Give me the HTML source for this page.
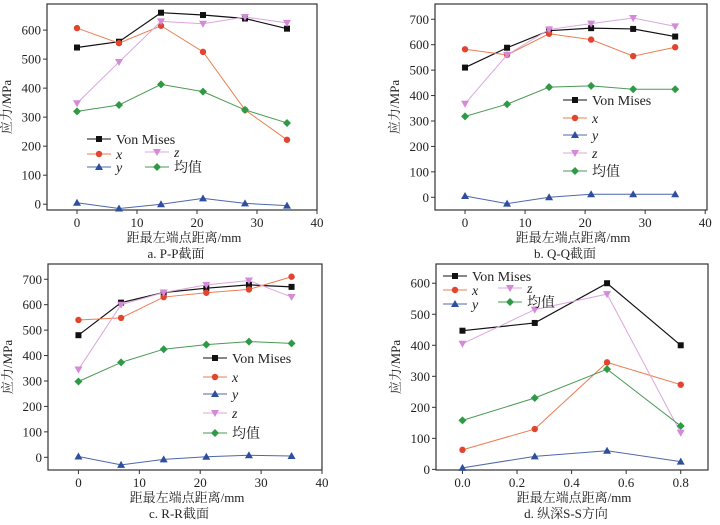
<!DOCTYPE html>
<html><head><meta charset="utf-8">
<style>
body{margin:0;background:#fff;width:720px;height:525px;overflow:hidden}
svg{display:block}
svg text{font-family:"Liberation Serif","Noto Serif CJK SC",serif !important;fill:#222}
</style></head>
<body>
<svg id="chart" width="720" height="525" viewBox="0 0 720 525" xmlns="http://www.w3.org/2000/svg" font-family="'Liberation Serif','Noto Serif CJK SC',serif"></svg>
<script>
// ---- data ----
const xA = [0, 7, 14, 21, 28, 35];
const aVM = [540, 560, 660, 652, 640, 605];
const aX = [607, 555, 615, 525, 325, 222];
const aY = [5, -15, 0, 20, 3, -5];
const aZ = [348, 490, 630, 622, 645, 625];
const aMean = [320, 342, 413, 388, 325, 280];

const xB = [0, 7, 14, 21, 28, 35];
const bVM = [510, 588, 655, 665, 662, 632];
const bX = [582, 560, 643, 620, 555, 590];
const bY = [5, -25, 0, 12, 12, 12];
const bZ = [368, 560, 660, 683, 705, 672];
const bMean = [318, 366, 433, 438, 425, 425];

const xC = [0, 7, 14, 21, 28, 35];
const cVM = [480, 608, 648, 665, 678, 670];
const cX = [540, 548, 630, 647, 660, 710];
const cY = [3, -30, -8, 2, 8, 5];
const cZ = [345, 600, 648, 678, 695, 630];
const cMean = [298, 373, 425, 443, 455, 448];

const xD = [0, 0.265, 0.53, 0.8];
const dVM = [447, 472, 600, 400];
const dX = [63, 130, 345, 273];
const dY = [5, 42, 60, 25];
const dZ = [405, 515, 565, 118];
const dMean = [158, 230, 323, 140];

const xTicksABC = [0, 10, 20, 30, 40];
const yTicksA = [0, 100, 200, 300, 400, 500, 600];
const yTicksBC = [0, 100, 200, 300, 400, 500, 600, 700];
const xTicksD = [0, 0.2, 0.4, 0.6, 0.8];
const yTicksD = [0, 100, 200, 300, 400, 500, 600];
const seriesNames = ["Von Mises", "x", "y", "z", "均值"];
const captions = ["a. P-P截面", "b. Q-Q截面", "c. R-R截面", "d. 纵深S-S方向"];

const svg = document.getElementById('chart');
const NS = 'http://www.w3.org/2000/svg';
const FONT = "'Liberation Serif','Noto Serif CJK SC',serif";
const colors = ['#111', '#e2452f', '#2f4f9e', '#d48ad6', '#2f9a45'];
const lineColors = ['#111', '#ec7d52', '#4d67aa', '#dca6de', '#4b9a55'];
const markers = ['square', 'circle', 'up', 'down', 'diamond'];

function mk(tag, attrs, parent) {
  const e = document.createElementNS(NS, tag);
  for (const k in attrs) e.setAttribute(k, attrs[k]);
  if (tag === 'text') e.setAttribute('font-family', FONT);
  (parent || svg).appendChild(e);
  return e;
}
function marker(g, type, x, y, c) {
  let e;
  if (type === 'square') e = mk('rect', {x: x - 3, y: y - 3, width: 6, height: 6, fill: c}, g);
  else if (type === 'circle') e = mk('circle', {cx: x, cy: y, r: 3.2, fill: c}, g);
  else if (type === 'up') e = mk('polygon', {points: `${x},${y-4} ${x-4},${y+3} ${x+4},${y+3}`, fill: c}, g);
  else if (type === 'down') e = mk('polygon', {points: `${x},${y+4} ${x-4},${y-3} ${x+4},${y-3}`, fill: c}, g);
  else e = mk('polygon', {points: `${x},${y-4} ${x+4},${y} ${x},${y+4} ${x-4},${y}`, fill: c}, g);
  return e;
}

function panel(id, box, xd, yd, xs, series, xticks, yticks, xfmt, legend, caption) {
  const g = mk('g', {});
  
  
  const X = v => box.l + (v - xd[0]) / (xd[1] - xd[0]) * (box.r - box.l);
  const Y = v => box.b - (v - yd[0]) / (yd[1] - yd[0]) * (box.b - box.t);
  const frame = mk('rect', {x: box.l, y: box.t, width: box.r - box.l, height: box.b - box.t, fill: 'none', stroke: '#333', 'stroke-width': 1.2}, g);
  
  
  xticks.forEach(t => {
    const x = X(t);
    mk('line', {x1: x, x2: x, y1: box.b, y2: box.b + 4, stroke: '#333'}, g);
    const tx = mk('text', {x: x, y: box.b + 17, 'text-anchor': 'middle', 'font-size': 13}, g);
    tx.textContent = xfmt(t);
    
    
  });
  yticks.forEach(t => {
    const y = Y(t);
    mk('line', {x1: box.l - 4, x2: box.l, y1: y, y2: y, stroke: '#333'}, g);
    const tx = mk('text', {x: box.l - 6, y: y + 4.5, 'text-anchor': 'end', 'font-size': 13}, g);
    tx.textContent = t;
    
    
  });
  const yt = mk('text', {transform: `translate(${box.l - 36},${(box.t + box.b) / 2}) rotate(-90)`, 'text-anchor': 'middle', 'font-size': 13}, g);
  yt.textContent = '应力/MPa';
  
  
  const xt = mk('text', {x: (box.l + box.r) / 2 + 2, y: box.b + 32, 'text-anchor': 'middle', 'font-size': 13}, g);
  xt.textContent = '距最左端点距离/mm';
  
  
  const cp = mk('text', {x: (box.l + box.r) / 2 - 6, y: box.b + 48, 'text-anchor': 'middle', 'font-size': 13}, g);
  cp.textContent = caption;
  
  
  series.forEach((s, i) => {
    const pts = s.map((v, j) => X(xs[j]) + ',' + Y(v)).join(' ');
    const pl = mk('polyline', {points: pts, fill: 'none', stroke: lineColors[i], 'stroke-width': i === 0 ? 1.2 : 1}, g);
    
    
    s.forEach((v, j) => {
      const m = marker(g, markers[i], X(xs[j]), Y(v), colors[i]);
      
      
    });
  });
  legend.forEach((L, i) => {
    const lg = mk('g', {}, g);
    
    
    mk('line', {x1: L[0], x2: L[0] + 24, y1: L[1], y2: L[1], stroke: lineColors[i], 'stroke-width': 1}, lg);
    marker(lg, markers[i], L[0] + 12, L[1], colors[i]);
    const italic = (i >= 1 && i <= 3);
    const tx = mk('text', {x: L[0] + 29, y: L[1] + 5, 'font-size': 14, 'font-style': italic ? 'italic' : 'normal'}, lg);
    tx.textContent = seriesNames[i];
  });
}

const int = v => String(v);
const dec = v => v.toFixed(1);

panel('a', {l: 47, r: 317, t: 4, b: 210}, [-5, 40], [-20, 690], xA, [aVM, aX, aY, aZ, aMean], xTicksABC, yTicksA, int,
  [[87, 139], [87, 154], [87, 167], [145, 152], [145, 167]], captions[0]);
panel('b', {l: 435, r: 707, t: 4, b: 210}, [-5, 40.3], [-50, 760], xB, [bVM, bX, bY, bZ, bMean], xTicksABC, yTicksBC, int,
  [[563, 100], [563, 118], [563, 135], [563, 153], [563, 171]], captions[1]);
panel('c', {l: 48, r: 322, t: 264, b: 470}, [-5, 40], [-50, 760], xC, [cVM, cX, cY, cZ, cMean], xTicksABC, yTicksBC, int,
  [[203, 358], [203, 377], [203, 394], [203, 413], [203, 433]], captions[2]);
panel('d', {l: 436, r: 708, t: 264, b: 470}, [-0.097, 0.9], [-2, 662], xD, [dVM, dX, dY, dZ, dMean], xTicksD, yTicksD, dec,
  [[443, 276], [443, 290], [443, 304], [498, 288], [498, 302]], captions[3]);
</script>
</body></html>
